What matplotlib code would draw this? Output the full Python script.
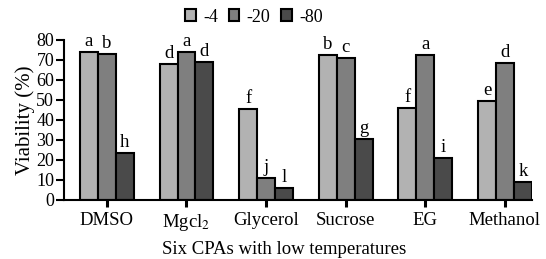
import matplotlib
matplotlib.use("Agg")
import matplotlib.pyplot as plt
import numpy as np

plt.rcParams["font.family"] = ["Liberation Serif", "DejaVu Serif"]
plt.rcParams["mathtext.fontset"] = "stix"

categories = ["DMSO", "Mgcl$_2$", "Glycerol", "Sucrose", "EG", "Methanol"]
series_names = ["-4", "-20", "-80"]
v_m4 = [74.0, 67.8, 45.7, 72.2, 45.8, 49.7]
v_m20 = [72.8, 73.8, 10.8, 70.8, 72.5, 68.3]
v_m80 = [23.3, 68.8, 5.8, 30.5, 21.2, 9.2]
letters_m4 = ["a", "d", "f", "b", "f", "e"]
letters_m20 = ["b", "a", "j", "c", "a", "d"]
letters_m80 = ["h", "d", "l", "g", "i", "k"]

colors = ["#b2b2b2", "#7f7f7f", "#4a4a4a"]
values = [v_m4, v_m20, v_m80]
letters = [letters_m4, letters_m20, letters_m80]

fig = plt.figure(figsize=(5.46, 2.59), dpi=100)
ax = fig.add_axes([0.117, 0.228, 0.857, 0.618])

x = np.arange(len(categories))
width = 0.225
for i, (name, vals, labs, c) in enumerate(zip(series_names, values, letters, colors)):
    pos = x + (i - 1) * width
    ax.bar(pos, vals, width, color=c, edgecolor="black", linewidth=1.5, label=name)
    for px, v, lab in zip(pos, vals, labs):
        ax.text(px, v + 1.0, lab, ha="center", va="bottom", fontsize=13.5)

ax.set_xlim(-0.54, x[-1] + 1.5 * width)
ax.set_ylim(0, 80)
ax.set_yticks(range(0, 81, 10))
ax.set_xticks(x)
ax.set_xticklabels(categories)
ax.tick_params(axis="x", labelsize=13.5, width=2.2, length=5, pad=4)
ax.tick_params(axis="y", labelsize=13, width=1.5, length=6, pad=1)
for s in ["top", "right"]:
    ax.spines[s].set_visible(False)
for s in ["left", "bottom"]:
    ax.spines[s].set_linewidth(1.5)

ax.set_ylabel("Viability (%)", fontsize=15, labelpad=1)
ax.set_xlabel("Six CPAs with low temperatures", fontsize=13.5)
ax.xaxis.set_label_coords(0.47, -0.255)
ax.xaxis.label.set_va("top")

fig.legend(loc="center", bbox_to_anchor=(0.465, 0.934), ncol=3, frameon=False,
           fontsize=13, handlelength=0.6, handleheight=0.6, handletextpad=0.4,
           columnspacing=0.6)

fig.savefig("out.png", dpi=100)
